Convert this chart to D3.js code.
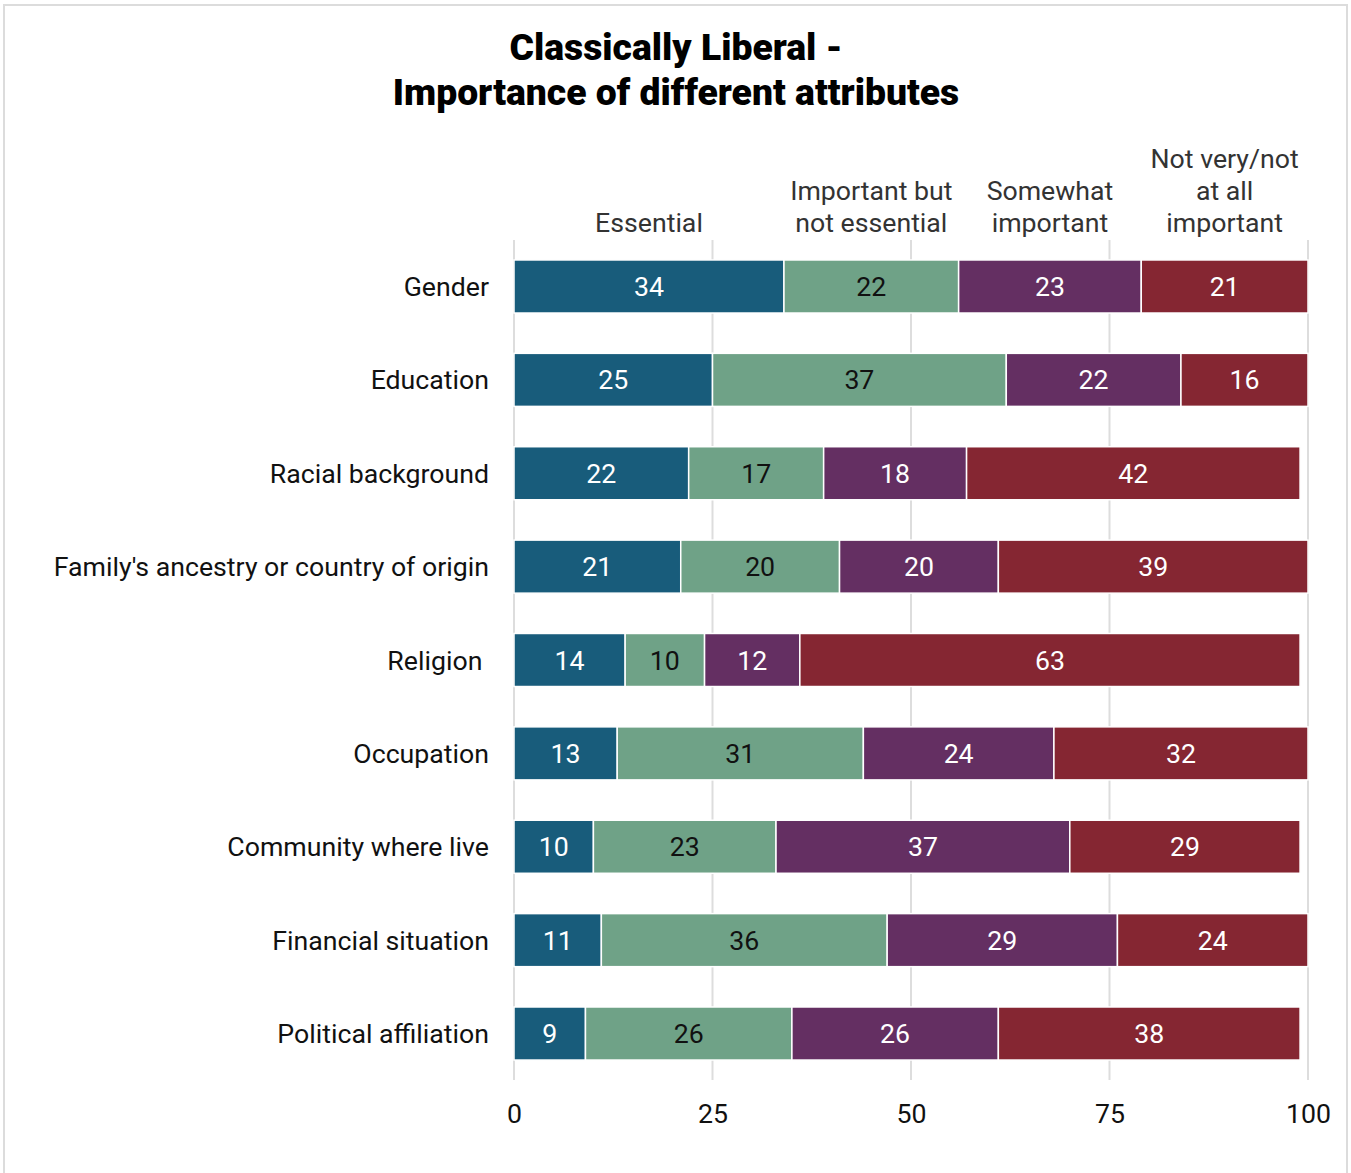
<!DOCTYPE html>
<html><head><meta charset="utf-8">
<script src="https://cdn.jsdelivr.net/npm/d3@7"></script>
<style>
body{margin:0;background:#fff;font-family:Roboto,"Noto Sans",sans-serif;}
text{font-family:Roboto,"Noto Sans",sans-serif;}
</style></head>
<body>
<svg id="chart" width="1351" height="1173"></svg>
<script>
const categories = ["Gender","Education","Racial background","Family's ancestry or country of origin","Religion ","Occupation","Community where live","Financial situation","Political affiliation"];
const seriesNames = [["Essential"],["Important but","not essential"],["Somewhat","important"],["Not very/not","at all","important"]];
const essential = [34,25,22,21,14,13,10,11,9];
const importantNotEssential = [22,37,17,20,10,31,23,36,26];
const somewhatImportant = [23,22,18,20,12,24,37,29,26];
const notImportant = [21,16,42,39,63,32,29,24,38];
const tickValues = [0,25,50,75,100];
const colors = ["#185c7b","#6fa287","#642f62","#852632"];
const textColors = ["#fff","#111","#fff","#fff"];
const fs = 26.7;

const svg = d3.select("#chart");
svg.append("rect").attr("x",4).attr("y",5).attr("width",1343).attr("height",1180)
  .attr("fill","none").attr("stroke","#dcdcdc").attr("stroke-width",2);

svg.append("text").attr("x",676).attr("y",60).attr("text-anchor","middle")
  .attr("font-size",37.3).attr("font-weight",900).attr("fill","#000").text("Classically Liberal -");
svg.append("text").attr("x",676).attr("y",105).attr("text-anchor","middle")
  .attr("font-size",37.3).attr("font-weight",900).attr("fill","#000").text("Importance of different attributes");

const x = d3.scaleLinear().domain([0,100]).range([514,1308]);
const y = d3.scaleBand().domain(categories).range([239.8,1080.2]).paddingInner(0.432).paddingOuter(0.216);

// grid
svg.append("g").selectAll("line").data(tickValues).join("line")
  .attr("x1",d=>x(d)).attr("x2",d=>x(d)).attr("y1",240).attr("y2",1080)
  .attr("stroke","#dddddd").attr("stroke-width",2);

const series = [essential, importantNotEssential, somewhatImportant, notImportant];
const rows = categories.map((c,i)=>{
  let acc=0;
  return series.map((s,k)=>{const seg={cat:c,k,v:s[i],x0:acc,x1:acc+s[i]};acc+=s[i];return seg;});
});
const segs = rows.flat();

svg.append("g").selectAll("rect").data(segs).join("rect")
  .attr("x",d=>x(d.x0)).attr("width",d=>x(d.x1)-x(d.x0))
  .attr("y",d=>y(d.cat)).attr("height",y.bandwidth())
  .attr("fill",d=>colors[d.k]).attr("stroke","#fff").attr("stroke-width",1.5);

svg.append("g").selectAll("text").data(segs).join("text")
  .attr("x",d=>(x(d.x0)+x(d.x1))/2).attr("y",d=>y(d.cat)+y.bandwidth()/2)
  .attr("dy","0.36em").attr("text-anchor","middle").attr("font-size",fs)
  .attr("fill",d=>textColors[d.k]).text(d=>d.v);

// category labels
svg.append("g").selectAll("text").data(categories).join("text")
  .attr("x",489).attr("y",d=>y(d)+y.bandwidth()/2).attr("dy","0.36em")
  .attr("text-anchor","end").attr("font-size",fs).attr("fill","#111")
  .style("white-space","pre").text(d=>d);

// series headers over first row
const first = rows[0];
seriesNames.forEach((lines,k)=>{
  const cx=(x(first[k].x0)+x(first[k].x1))/2;
  const t=svg.append("text").attr("text-anchor","middle").attr("font-size",fs).attr("fill","#333");
  lines.forEach((ln,j)=>{
    t.append("tspan").attr("x",cx).attr("y",232-(lines.length-1-j)*32).text(ln);
  });
});

// x axis labels
const axis = d3.axisBottom(x).tickValues(tickValues).tickSize(0).tickPadding(0);
const ag = svg.append("g").attr("transform","translate(0,1104)").call(axis);
ag.select(".domain").remove();
ag.selectAll("text").attr("font-size",fs).attr("fill","#111").attr("font-family","Roboto,sans-serif").attr("dy","0.71em");
</script>
</body></html>
